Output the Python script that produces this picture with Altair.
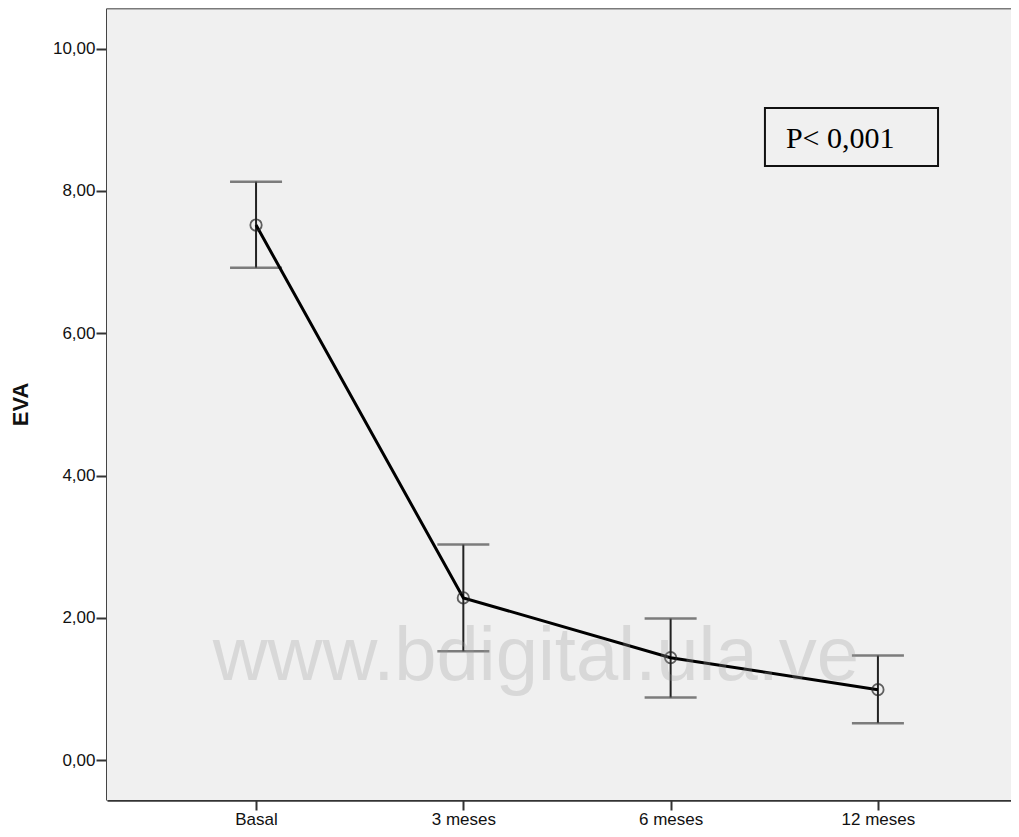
import altair as alt
import pandas as pd

categories = ["Basal", "3 meses", "6 meses", "12 meses"]
means = [7.52, 2.28, 1.44, 0.99]
upper = [8.13, 3.03, 1.99, 1.47]
lower = [6.92, 1.53, 0.88, 0.52]
y_ticks = [0, 2, 4, 6, 8, 10]
annotation = "P< 0,001"
watermark = "www.bdigital.ula.ve"

df = pd.DataFrame({
    "idx": list(range(len(categories))),
    "cat": categories,
    "mean": means,
    "hi": upper,
    "lo": lower,
})

W, H = 904, 792
xs = alt.Scale(domain=[-0.719, 3.642], nice=False, zero=False)
ys = alt.Scale(domain=[-0.56, 10.57], nice=False, zero=False)

label_expr = "[" + ",".join("'" + c + "'" for c in categories) + "][datum.value]"

x_axis = alt.Axis(
    values=list(range(len(categories))), labelExpr=label_expr, title=None,
    grid=False, tickSize=10, tickColor="#333333", tickWidth=2,
    domainColor="#333333", domainWidth=2.5, labelFont="Liberation Sans",
    labelFontSize=17, labelColor="#111111", labelPadding=1,
)
y_axis = alt.Axis(
    values=y_ticks, labelExpr="replace(format(datum.value, '.2f'), '.', ',')",
    title="EVA", titleFont="Liberation Sans", titleFontSize=22, titleFontWeight="bold",
    titleColor="#111111", titleX=-75, titleY=H / 2, titleAngle=-90,
    grid=False, tickSize=11, tickColor="#333333", tickWidth=2,
    domainColor="#444444", domainWidth=3, labelFont="Liberation Sans",
    labelFontSize=17, labelColor="#111111", labelPadding=1,
)

frame = pd.DataFrame({"v": [0]})
bg = alt.Chart(frame).mark_rect(fill="#f0f0f0", strokeWidth=0).encode(
    x=alt.value(0), x2=alt.value(W + 2), y=alt.value(0), y2=alt.value(H)
)
top_border = alt.Chart(frame).mark_rect(color="#7a7a7a", strokeWidth=0).encode(
    x=alt.value(0), x2=alt.value(W + 2), y=alt.value(-1.5), y2=alt.value(1.5)
)

base = alt.Chart(df)

X = alt.X("idx:Q", scale=xs, axis=x_axis)

stems = base.mark_rule(color="#222222", strokeWidth=2).encode(
    x=X, y=alt.Y("lo:Q", scale=ys, axis=y_axis), y2="hi:Q"
)
cap_hi = base.mark_tick(orient="horizontal", size=52, thickness=2.5, color="#4a4a4a").encode(
    x=alt.X("idx:Q", scale=xs), y=alt.Y("hi:Q", scale=ys)
)
cap_lo = base.mark_tick(orient="horizontal", size=52, thickness=2.5, color="#4a4a4a").encode(
    x=alt.X("idx:Q", scale=xs), y=alt.Y("lo:Q", scale=ys)
)
line = base.mark_line(color="#000000", strokeWidth=3).encode(
    x=alt.X("idx:Q", scale=xs), y=alt.Y("mean:Q", scale=ys)
)
points = base.mark_point(shape="circle", size=130, filled=False, color="#222222",
                         strokeWidth=1.8).encode(
    x=alt.X("idx:Q", scale=xs), y=alt.Y("mean:Q", scale=ys)
)

box_df = pd.DataFrame({"x": [2.455], "x2": [3.290], "y": [9.166], "y2": [8.351]})
box = alt.Chart(box_df).mark_rect(fill="#f0f0f0", stroke="#111111", strokeWidth=2).encode(
    x=alt.X("x:Q", scale=xs), x2="x2:Q", y=alt.Y("y:Q", scale=ys), y2="y2:Q"
)
ptext = alt.Chart(pd.DataFrame({"x": [2.556], "y": [8.60], "t": [annotation]})).mark_text(
    font="Liberation Serif", fontSize=30, align="left", baseline="alphabetic", color="#000000"
).encode(x=alt.X("x:Q", scale=xs), y=alt.Y("y:Q", scale=ys), text="t:N")

wm = alt.Chart(pd.DataFrame({"x": [1.350], "y": [1.13], "t": [watermark]})).mark_text(
    font="Liberation Sans", fontSize=76, align="center", baseline="alphabetic",
    color="#999999", opacity=0.27
).encode(x=alt.X("x:Q", scale=xs), y=alt.Y("y:Q", scale=ys), text="t:N")

chart = alt.layer(bg, stems, cap_hi, cap_lo, line, points, box, ptext, wm, top_border).properties(
    width=W, height=H,
    padding={"left": 99, "top": 0, "right": 0, "bottom": 28},
    background="#ffffff",
    autosize=alt.AutoSizeParams(type="none"),
).configure_view(stroke="transparent", strokeWidth=0)

chart.save("out.html", embed_options={"renderer": "svg", "actions": False})
